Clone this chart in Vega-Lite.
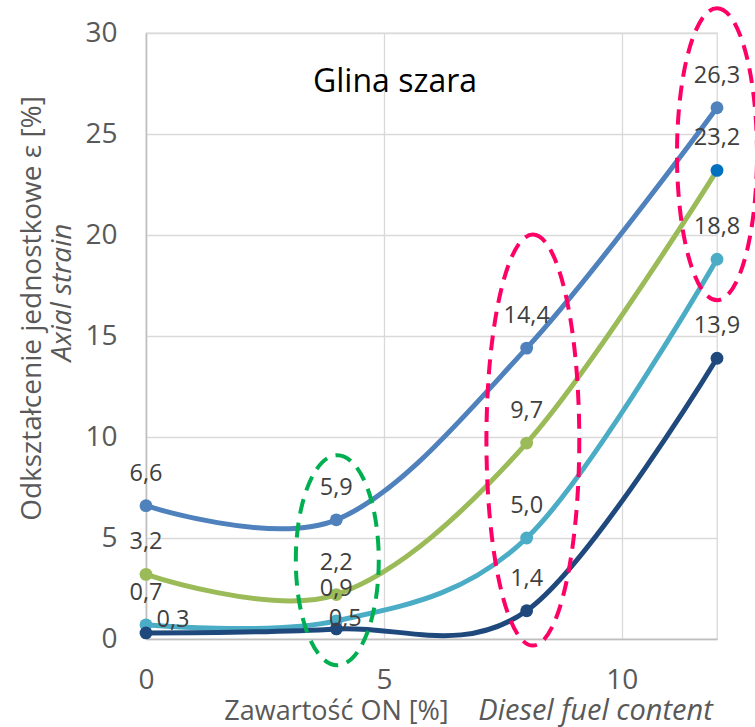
{
  "$schema": "https://vega.github.io/schema/vega-lite/v6.json",
  "width": 571,
  "height": 606,
  "autosize": "none",
  "padding": {"left": 146, "top": 33, "right": 38, "bottom": 88},
  "title": {"text": "Glina szara", "anchor": "start", "frame": "group", "orient": "none", "dx": 167, "dy": 59, "fontSize": 32, "fontWeight": "normal", "color": "#000000", "font": "Open Sans", "baseline": "alphabetic", "align": "left"},
  "config": {
    "view": {"stroke": "#D9D9D9", "strokeWidth": 1.3},
    "font": "Open Sans",
    "locale": {"number": {"decimal": ",", "thousands": " ", "grouping": [3], "currency": ["", ""]}}
  },
  "data": {
    "values": [
      {"s": "A", "x": 0, "y": 6.6}, {"s": "A", "x": 4, "y": 5.9}, {"s": "A", "x": 8, "y": 14.4}, {"s": "A", "x": 12, "y": 26.3},
      {"s": "B", "x": 0, "y": 3.2}, {"s": "B", "x": 4, "y": 2.2}, {"s": "B", "x": 8, "y": 9.7}, {"s": "B", "x": 12, "y": 23.2},
      {"s": "C", "x": 0, "y": 0.7}, {"s": "C", "x": 4, "y": 0.9}, {"s": "C", "x": 8, "y": 5.0}, {"s": "C", "x": 12, "y": 18.8},
      {"s": "D", "x": 0, "y": 0.3}, {"s": "D", "x": 4, "y": 0.5}, {"s": "D", "x": 8, "y": 1.4}, {"s": "D", "x": 12, "y": 13.9}
    ]
  },
  "layer": [
    {
      "encoding": {
        "x": {"field": "x", "type": "quantitative", "scale": {"domain": [0, 12], "nice": false},
          "axis": {"values": [0, 5, 10], "grid": true, "gridColor": "#D9D9D9", "gridWidth": 1.3, "domainColor": "#BFBFBF", "domainWidth": 1.5, "ticks": false,
            "labelFontSize": 28, "labelColor": "#595959", "labelPadding": 27, "labelFlush": false,
            "title": "Zawartość ON [%]", "titleFontSize": 27, "titleFontWeight": "normal", "titleColor": "#595959",
            "titleX": 190, "titleY": 80, "titleBaseline": "alphabetic"}},
        "y": {"field": "y", "type": "quantitative", "scale": {"domain": [0, 30], "nice": false},
          "axis": {"values": [0, 5, 10, 15, 20, 25, 30], "grid": true, "gridColor": "#D9D9D9", "gridWidth": 1.3, "domainColor": "#BFBFBF", "domainWidth": 1.5, "ticks": false,
            "labelFontSize": 28, "labelColor": "#595959", "labelPadding": 29, "labelFlush": false,
            "title": "Odkształcenie jednostkowe ε [%]", "titleFontSize": 28, "titleFontWeight": "normal", "titleColor": "#595959",
            "titleX": -114, "titleY": 275, "titleAngle": -90, "titleBaseline": "middle"}}
      },
      "layer": [
        {
          "mark": {"type": "line", "interpolate": "cardinal", "strokeWidth": 5},
          "encoding": {"color": {"field": "s", "type": "nominal", "scale": {"domain": ["A", "B", "C", "D"], "range": ["#4F81BD", "#9BBB59", "#4BACC6", "#1F497D"]}, "legend": null}}
        },
        {
          "mark": {"type": "circle", "size": 165, "opacity": 1},
          "encoding": {"color": {"condition": {"test": "datum.s === 'B' && datum.x === 12", "value": "#0070C0"}, "field": "s", "type": "nominal", "scale": {"domain": ["A", "B", "C", "D"], "range": ["#4F81BD", "#9BBB59", "#4BACC6", "#1F497D"]}, "legend": null}}
        },
        {
          "data": {"values": [{"x": 4.02, "y": 3.9}]},
          "mark": {"type": "point", "shape": "M0,-1C0.218,-1 0.395,-0.552 0.395,0C0.395,0.552 0.218,1 0,1C-0.218,1 -0.395,0.552 -0.395,0C-0.395,-0.552 -0.218,-1 0,-1Z", "size": 44100, "filled": false, "opacity": 1, "color": "#00B050", "strokeWidth": 4, "strokeDash": [15, 9]},
          "encoding": {}
        },
        {
          "data": {"values": [{"x": 8.13, "y": 9.85}]},
          "mark": {"type": "point", "shape": "M0,-1C0.125,-1 0.226,-0.552 0.226,0C0.226,0.552 0.125,1 0,1C-0.125,1 -0.226,0.552 -0.226,0C-0.226,-0.552 -0.125,-1 0,-1Z", "size": 168921, "filled": false, "opacity": 1, "color": "#FF0066", "strokeWidth": 4, "strokeDash": [15, 9]},
          "encoding": {}
        },
        {
          "data": {"values": [{"x": 12, "y": 24.0}]},
          "mark": {"type": "point", "shape": "M0,-1C0.151,-1 0.274,-0.552 0.274,0C0.274,0.552 0.151,1 0,1C-0.151,1 -0.274,0.552 -0.274,0C-0.274,-0.552 -0.151,-1 0,-1Z", "size": 85264, "filled": false, "opacity": 1, "color": "#FF0066", "strokeWidth": 4, "strokeDash": [15, 9]},
          "encoding": {}
        },
        {
          "transform": [{"filter": "!(datum.s === 'D' && datum.x < 8)"}],
          "mark": {"type": "text", "fontSize": 23.5, "color": "#404040", "dy": -32, "baseline": "middle"},
          "encoding": {"text": {"field": "y", "type": "quantitative", "format": ".1f"}}
        },
        {
          "transform": [{"filter": "datum.s === 'D' && datum.x === 0"}],
          "mark": {"type": "text", "fontSize": 23.5, "color": "#404040", "dx": 27, "dy": -13, "baseline": "middle"},
          "encoding": {"text": {"field": "y", "type": "quantitative", "format": ".1f"}}
        },
        {
          "transform": [{"filter": "datum.s === 'D' && datum.x === 4"}],
          "mark": {"type": "text", "fontSize": 23.5, "color": "#404040", "dx": 9, "dy": -10, "baseline": "middle"},
          "encoding": {"text": {"field": "y", "type": "quantitative", "format": ".1f"}}
        }
      ]
    },
    {
      "mark": {"type": "point", "opacity": 0},
      "encoding": {
        "x": {"field": "x", "type": "quantitative", "scale": {"domain": [0, 12], "nice": false},
          "axis": {"orient": "bottom", "labels": false, "ticks": false, "domain": false, "grid": false,
            "title": "Diesel fuel content", "titleFontSize": 29, "titleFontWeight": "normal", "titleFontStyle": "italic", "titleColor": "#595959",
            "titleX": 449, "titleY": 80, "titleBaseline": "alphabetic"}},
        "y": {"field": "y", "type": "quantitative", "scale": {"domain": [0, 30], "nice": false},
          "axis": {"orient": "left", "labels": false, "ticks": false, "domain": false, "grid": false,
            "title": "Axial strain", "titleFontSize": 28, "titleFontWeight": "normal", "titleFontStyle": "italic", "titleColor": "#595959",
            "titleX": -84, "titleY": 259, "titleAngle": -90, "titleBaseline": "middle"}}
      }
    }
  ],
  "resolve": {"scale": {"x": "independent", "y": "independent"}}
}
